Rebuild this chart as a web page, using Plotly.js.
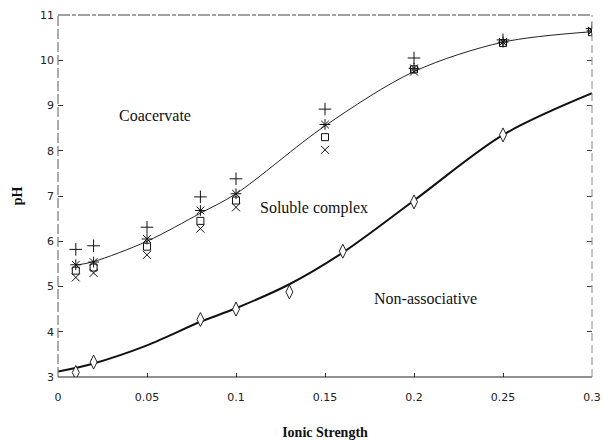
<!DOCTYPE html>
<html>
<head>
<meta charset="utf-8">
<script src="https://cdn.plot.ly/plotly-3.0.1.min.js"></script>
<style>html,body{margin:0;padding:0;background:#fff;}#chart{width:603px;height:440px;}</style>
</head>
<body>
<div id="chart"></div>
<script>
// Measured points (upper boundary: four replicate series)
var ionicUpper = [0.01, 0.02, 0.05, 0.08, 0.1, 0.15, 0.2, 0.25, 0.3];
var phPlus     = [5.82, 5.9, 6.31, 6.98, 7.38, 8.92, 10.05, 10.45, 10.7];
var phStar     = [5.48, 5.54, 6.05, 6.68, 7.05, 8.58, 9.82, 10.4, 10.65];
var phSquare   = [5.35, 5.42, 5.88, 6.45, 6.9, 8.3, 9.8, 10.38, 10.62];
var phCross    = [5.2, 5.3, 5.7, 6.28, 6.75, 8.02, 9.75, 10.4, 10.65];
// Lower boundary (diamonds)
var ionicLower = [0.01, 0.02, 0.08, 0.1, 0.13, 0.16, 0.2, 0.25];
var phDiamond  = [3.1, 3.33, 4.27, 4.5, 4.88, 5.78, 6.87, 8.35];
// Fitted curves
var curveUpperX = [0.01, 0.02, 0.05, 0.08, 0.1, 0.15, 0.2, 0.25, 0.3];
var curveUpperY = [5.47, 5.55, 6.0, 6.62, 7.05, 8.55, 9.75, 10.4, 10.63];
var curveLowerX = [0, 0.02, 0.05, 0.08, 0.1, 0.13, 0.16, 0.2, 0.25, 0.3];
var curveLowerY = [3.12, 3.3, 3.7, 4.22, 4.52, 5.05, 5.75, 6.9, 8.35, 9.27];
var xTicks = [0, 0.05, 0.1, 0.15, 0.2, 0.25, 0.3];
var xTickText = ['0', '0.05', '0.1', '0.15', '0.2', '0.25', '0.3'];
var yTicks = [3, 4, 5, 6, 7, 8, 9, 10, 11];

function pts(y, sym, size) {
  return {x: ionicUpper, y: y, mode: 'markers', type: 'scatter', hoverinfo: 'skip',
    marker: {symbol: sym, size: size, color: '#111', line: {color: '#111', width: 1}}};
}
var traces = [
  {x: curveUpperX, y: curveUpperY, mode: 'lines', line: {shape: 'spline', smoothing: 0.9, color: '#222', width: 1}, type: 'scatter'},
  {x: curveLowerX, y: curveLowerY, mode: 'lines', line: {shape: 'spline', smoothing: 0.9, color: '#111', width: 2}, type: 'scatter'},
  pts(phPlus, 'cross-thin-open', 9),
  pts(phSquare, 'square-open', 7),
  pts(phCross, 'x-thin-open', 8),
  pts(phStar, 'asterisk-open', 9),
  {x: ionicLower, y: phDiamond, mode: 'markers', type: 'scatter',
    marker: {symbol: 'diamond-tall', size: 10, color: '#fff', line: {color: '#222', width: 1}}}
];

var serif = 'Liberation Serif, Times New Roman, serif';
var layout = {
  width: 603, height: 440,
  margin: {l: 58, r: 11, t: 15, b: 63},
  paper_bgcolor: '#fff', plot_bgcolor: '#fff',
  showlegend: false,
  xaxis: {range: [0, 0.3], tickvals: xTicks, ticktext: xTickText, ticks: 'inside', ticklen: 4,
    tickcolor: '#333', showgrid: false, zeroline: false, showline: false, ticklabelstandoff: 12,
    tickfont: {family: 'DejaVu Sans, sans-serif', size: 11, color: '#222'},
    title: {text: '<b>Ionic Strength</b>', font: {family: serif, size: 14, color: '#111'}, standoff: 26}},
  yaxis: {range: [3, 11], tickvals: yTicks, ticks: 'inside', ticklen: 5, tickcolor: '#333',
    showgrid: false, zeroline: false, showline: false, ticklabelstandoff: 3,
    tickfont: {family: 'DejaVu Sans, sans-serif', size: 11, color: '#222'},
    title: {text: '<b>pH</b>', font: {family: serif, size: 14, color: '#111'}, standoff: 14}},
  yaxis2: {range: [3, 11], overlaying: 'y', side: 'right', tickvals: yTicks, ticks: 'inside', ticklen: 5,
    tickcolor: '#444', showticklabels: false, showgrid: false, zeroline: false, showline: false},
  shapes: [
    {type: 'line', xref: 'paper', yref: 'paper', x0: 0, x1: 1, y0: 0, y1: 0, line: {color: '#222', width: 1.2}},
    {type: 'line', xref: 'paper', yref: 'paper', x0: 0, x1: 1, y0: 1, y1: 1, line: {color: '#444', width: 1.2, dash: '12px,2px,4px,2px'}},
    {type: 'line', xref: 'paper', yref: 'paper', x0: 0, x1: 0, y0: 0, y1: 1, line: {color: '#777', width: 1.2, dash: '10px,3px'}},
    {type: 'line', xref: 'paper', yref: 'paper', x0: 1, x1: 1, y0: 0, y1: 1, line: {color: '#888', width: 1, dash: '8px,4px'}}
  ],
  annotations: [
    {x: 0.0545, y: 8.78, text: 'Coacervate', showarrow: false, xanchor: 'center', font: {family: serif, size: 16, color: '#111'}},
    {x: 0.1438, y: 6.73, text: 'Soluble complex', showarrow: false, xanchor: 'center', font: {family: serif, size: 16, color: '#111'}},
    {x: 0.2067, y: 4.74, text: 'Non-associative', showarrow: false, xanchor: 'center', font: {family: serif, size: 16, color: '#111'}}
  ]
};
// invisible trace so the right-hand axis draws its ticks
traces.push({x: [0], y: [3], yaxis: 'y2', mode: 'markers', marker: {opacity: 0}, hoverinfo: 'skip'});
Plotly.newPlot('chart', traces, layout, {displayModeBar: false, staticPlot: true});
</script>
</body>
</html>
